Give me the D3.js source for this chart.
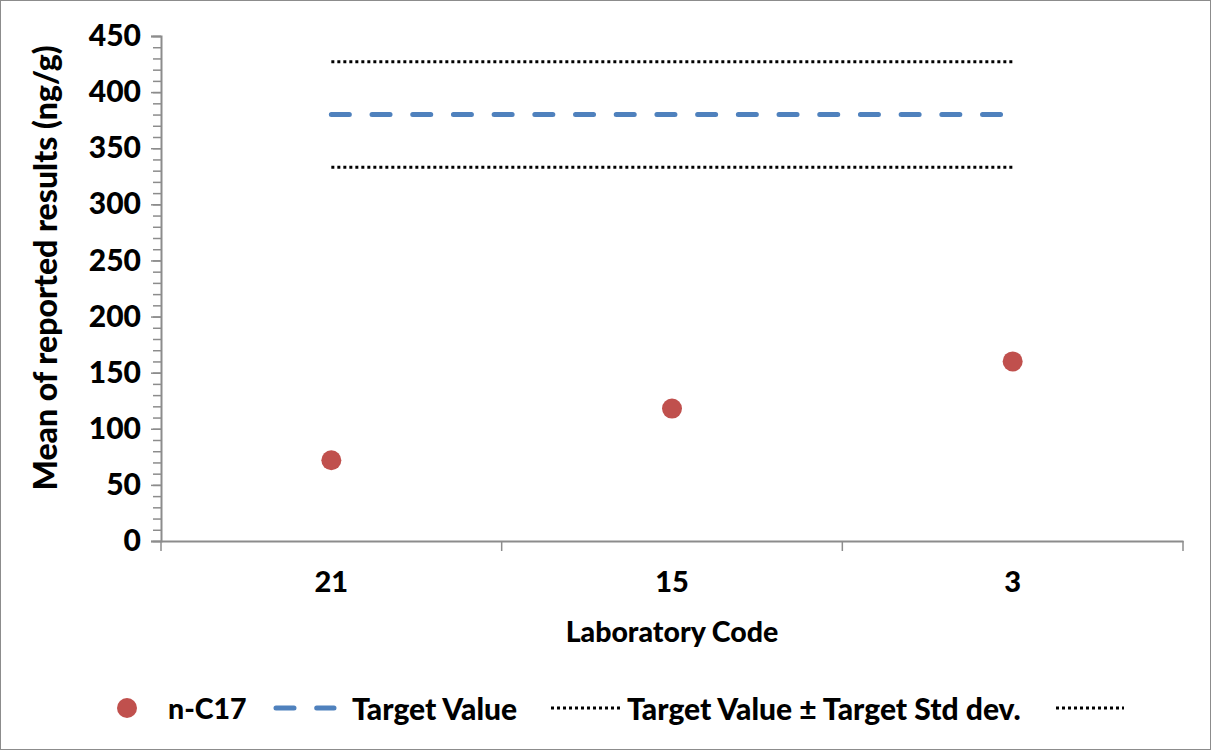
<!DOCTYPE html>
<html>
<head>
<meta charset="utf-8">
<script src="https://cdn.jsdelivr.net/npm/d3@7"></script>
<style>
  html, body { margin: 0; padding: 0; background: #fff; }
  svg { display: block; }
  text { font-family: Lato, "Open Sans", sans-serif; font-weight: 900; fill: #000; }
</style>
</head>
<body>
<svg id="chart" width="1212" height="751"></svg>
<script>
// ---- Data ----
const categories = ["21", "15", "3"];
const seriesName = "n-C17";
const seriesValues = [72, 118, 160];
const targetValue = 380;
const targetUpper = 427;
const targetLower = 333;
const yTicks = [0, 50, 100, 150, 200, 250, 300, 350, 400, 450];
const legendLabels = ["n-C17", "Target Value", "Target Value \u00B1 Target Std dev.", ""];

// ---- Layout ----
const svg = d3.select("#chart");
const W = 1212, H = 751;
const plot = { left: 161, right: 1183, top: 36, bottom: 541 };

svg.append("rect")
  .attr("x", 0.5).attr("y", 0.5).attr("width", W - 2).attr("height", H - 2)
  .attr("fill", "#fff").attr("stroke", "#8c8c8c").attr("stroke-width", 1);

const x = d3.scaleBand().domain(categories).range([plot.left, plot.right]).padding(0);
const y = d3.scaleLinear().domain([0, 450]).range([plot.bottom, plot.top]);

const axisColor = "#8c8c8c";

// Y axis minor ticks
const minorTicks = d3.range(0, 451, 10);
const yAxisMinor = d3.axisLeft(y).tickValues(minorTicks).tickSize(8).tickFormat("");
const gMinor = svg.append("g").attr("transform", `translate(${plot.left},0)`).call(yAxisMinor);
gMinor.select(".domain").remove();
gMinor.selectAll("line").attr("stroke", axisColor).attr("stroke-width", 1.5);

// Y axis major
const yAxis = d3.axisLeft(y).tickValues(yTicks).tickSize(10).tickPadding(10).tickFormat(d3.format("d"));
const gy = svg.append("g").attr("transform", `translate(${plot.left},0)`).call(yAxis);
gy.select(".domain").attr("stroke", axisColor).attr("stroke-width", 2);
gy.selectAll("line").attr("stroke", axisColor).attr("stroke-width", 1.5);
gy.selectAll("text").attr("font-size", 30).attr("font-family", "Lato").attr("font-weight", 900).attr("fill", "#000");

// X axis
const xAxis = d3.axisBottom(x).tickSize(0).tickPadding(30);
const gx = svg.append("g").attr("transform", `translate(0,${plot.bottom})`).call(xAxis);
gx.select(".domain").attr("stroke", axisColor).attr("stroke-width", 2);
gx.selectAll("text").attr("font-size", 29).attr("font-family", "Lato").attr("font-weight", 900).attr("fill", "#000");
// band boundary ticks
const boundaries = categories.map(c => x(c)).concat([x(categories[categories.length - 1]) + x.bandwidth()]);
gx.selectAll("line.bt").data(boundaries).enter().append("line")
  .attr("class", "bt")
  .attr("x1", d => d).attr("x2", d => d).attr("y1", 0).attr("y2", 10)
  .attr("stroke", axisColor).attr("stroke-width", 1.5);

// Axis titles
svg.append("text")
  .attr("transform", `translate(44,268) rotate(-90)`)
  .attr("text-anchor", "middle").attr("dominant-baseline", "central")
  .attr("font-size", 32)
  .text("Mean of reported results (ng/g)");

svg.append("text")
  .attr("x", (plot.left + plot.right) / 2).attr("y", 631)
  .attr("text-anchor", "middle").attr("dominant-baseline", "central")
  .attr("font-size", 28.5)
  .text("Laboratory Code");

// Reference lines
const cx = c => x(c) + x.bandwidth() / 2;
const line = d3.line().x(d => cx(d.c)).y(d => y(d.v));

function refLine(v, stroke, width, dash, cap) {
  svg.append("path")
    .datum(categories.map(c => ({ c, v })))
    .attr("d", line)
    .attr("fill", "none")
    .attr("stroke", stroke)
    .attr("stroke-width", width)
    .attr("stroke-dasharray", dash)
    .attr("stroke-linecap", cap);
}
refLine(targetUpper, "#000", 3, "3,3", "butt");
refLine(targetLower, "#000", 3, "3,3", "butt");
refLine(targetValue, "#4F81BD", 5, "18,22.7", "round");

// Points
svg.append("g").selectAll("circle")
  .data(categories.map((c, i) => ({ c, v: seriesValues[i] })))
  .enter().append("circle")
  .attr("cx", d => cx(d.c)).attr("cy", d => y(d.v)).attr("r", 10)
  .attr("fill", "#C0504D");

// Legend
const ly = 708;
const LFS = 30;
const lg = svg.append("g");
lg.append("circle").attr("cx", 127).attr("cy", ly).attr("r", 10).attr("fill", "#C0504D");
lg.append("text").attr("x", 168).attr("y", ly).attr("dominant-baseline", "central").attr("font-size", 28.5).text(legendLabels[0]);
lg.append("line").attr("x1", 276).attr("x2", 334).attr("y1", ly).attr("y2", ly)
  .attr("stroke", "#4F81BD").attr("stroke-width", 5).attr("stroke-linecap", "round").attr("stroke-dasharray", "18,22.7");
lg.append("text").attr("x", 352).attr("y", ly).attr("dominant-baseline", "central").attr("font-size", LFS).text(legendLabels[1]);
lg.append("line").attr("x1", 551).attr("x2", 620).attr("y1", ly).attr("y2", ly)
  .attr("stroke", "#000").attr("stroke-width", 3).attr("stroke-dasharray", "3,3");
lg.append("text").attr("x", 627).attr("y", ly).attr("dominant-baseline", "central").attr("font-size", LFS).text(legendLabels[2]);
lg.append("line").attr("x1", 1056).attr("x2", 1124).attr("y1", ly).attr("y2", ly)
  .attr("stroke", "#000").attr("stroke-width", 3).attr("stroke-dasharray", "3,3");
</script>
</body>
</html>
